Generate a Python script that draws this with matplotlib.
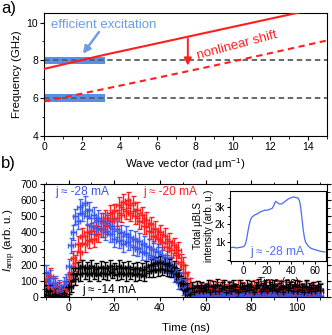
import numpy as np
import matplotlib
matplotlib.use("Agg")
import matplotlib.pyplot as plt
from matplotlib.ticker import MultipleLocator, FuncFormatter

plt.rcParams["font.family"] = ["Liberation Sans", "DejaVu Sans"]
plt.rcParams["mathtext.fontset"] = "custom"
plt.rcParams["mathtext.rm"] = "Liberation Sans"
plt.rcParams["mathtext.it"] = "Liberation Sans:italic"

# ---- panel a: dispersion ------------------------------------------------
k_vals = [0, 3, 6, 9, 12, 15]
f_linear = [7.55, 8.25, 8.9, 9.55, 10.2, 10.85]
f_shifted = [5.83, 6.45, 7.08, 7.72, 8.38, 9.05]
f_pump = [8, 6]
k_band = [0, 3.2]

# ---- panel b: time traces (one value per ns, t = -10 ... 110) -----------
t_ns = list(range(-10, 111))
amp_28 = [150, 95, 120, 70, 85, 40, 60, 30, 75, 95,
          190, 320, 400, 500, 470, 560, 520, 580, 500, 540,
          440, 510, 430, 490, 420, 470, 400, 460, 390, 440,
          360, 420, 350, 400, 330, 390, 340, 370, 310, 360,
          300, 350, 280, 330, 270, 310, 250, 300, 240, 280,
          220, 260, 200, 240, 170, 200, 140, 160, 100, 110,
          60, 70, 30, 35, 10, 25, 5, 20, 15, 10,
          20, 5, 25, 10, 30, 0, 15, 25, 5, 20,
          10, 30, 5, 15, 25, 0, 20, 10, 30, 5,
          15, 25, 10, 0, 20, 30, 5, 15, 25, 10,
          20, 0, 30, 15, 5, 25, 10, 20, 0, 30,
          15, 5, 25, 10, 20, 0, 15, 30, 5, 20, 10]
amp_20 = [110, 60, 130, 40, 70, 20, 45, 15, 50, 35,
          110, 140, 240, 210, 330, 280, 380, 330, 400, 350,
          410, 360, 440, 390, 470, 420, 490, 440, 520, 470,
          530, 490, 570, 510, 590, 530, 600, 520, 580, 500,
          540, 470, 510, 440, 480, 410, 450, 380, 420, 360,
          400, 340, 380, 310, 350, 290, 320, 260, 290, 220,
          200, 150, 110, 70, 45, 25, 50, 20, 40, 15,
          40, 15, 55, 25, 10, 45, 30, 60, 20, 35,
          50, 10, 40, 25, 55, 15, 45, 30, 5, 40,
          25, 55, 15, 35, 50, 10, 45, 20, 55, 30,
          15, 40, 60, 25, 10, 45, 30, 50, 20, 35,
          55, 15, 40, 25, 50, 10, 35, 45, 20, 30, 40]
amp_14 = [40, 15, 35, 5, 20, 0, 15, 5, 25, 10,
          60, 70, 140, 110, 180, 140, 190, 150, 180, 140,
          190, 150, 175, 140, 185, 150, 180, 145, 190, 155,
          175, 145, 190, 150, 180, 140, 185, 150, 175, 140,
          180, 145, 170, 135, 185, 160, 200, 165, 210, 170,
          215, 175, 205, 170, 200, 160, 185, 140, 130, 90,
          80, 40, 50, 20, 55, 30, 60, 35, 55, 40,
          45, 70, 30, 60, 40, 75, 35, 55, 65, 30,
          55, 40, 70, 45, 30, 65, 50, 35, 70, 45,
          60, 30, 55, 75, 40, 50, 65, 35, 55, 45,
          70, 35, 50, 60, 30, 65, 45, 55, 40, 70,
          35, 60, 45, 30, 65, 50, 40, 55, 35, 60, 45]

# ---- inset: total uBLS intensity for j = -28 mA ------------------------
t_inset = [-10, -8, -6, -4, -2, 0, 1, 2, 3, 4, 5, 6, 7, 8, 10, 12, 14, 16,
           18, 20, 22, 24, 25, 26, 27, 28, 30, 32, 34, 36, 38, 40, 42, 44,
           45, 46, 47, 48, 49, 50, 51, 52, 54, 56, 58, 60, 64, 68]
i_inset = [700, 720, 680, 700, 720, 750, 800, 950, 1250, 1650, 2000, 2250,
           2400, 2450, 2550, 2600, 2700, 2750, 2800, 2800, 2850, 2900, 3000,
           3150, 3300, 3250, 3150, 3150, 3250, 3350, 3450, 3500, 3550, 3500,
           3500, 3450, 3300, 2900, 2300, 1700, 1250, 1000, 800, 680, 620,
           580, 500, 450]

RED = "#ff1f1f"
BLUE = "#3556f0"
LIGHTBLUE = "#6c9bea"

fig = plt.figure(figsize=(3.32, 3.35), dpi=100)
ax_a = fig.add_axes([0.1335, 0.594, 0.851, 0.367])
ax_b = fig.add_axes([0.1335, 0.113, 0.851, 0.338])
ax_in = fig.add_axes([0.693, 0.221, 0.289, 0.209])

# panel a
for f in f_pump:
    ax_a.fill_between(k_band, f - 0.2, f + 0.2, color="#5b8ee6", lw=0, zorder=1)
    ax_a.axhline(f, color="#55605f", lw=1.3, ls=(0, (3, 2)), zorder=2)
ax_a.plot(k_vals, f_linear, color=RED, lw=1.5, zorder=3)
ax_a.plot(k_vals, f_shifted, color=RED, lw=1.5, ls=(0, (3, 2.2)), zorder=3)
ax_a.annotate("", xy=(7.62, 7.72), xytext=(7.62, 9.15),
              arrowprops=dict(arrowstyle="-|>", color=RED, lw=1.4,
                              mutation_scale=11, shrinkA=0, shrinkB=0))
ax_a.annotate("", xy=(2.05, 8.35), xytext=(2.9, 9.5),
              arrowprops=dict(arrowstyle="-|>", color=LIGHTBLUE, lw=1.7,
                              mutation_scale=11, shrinkA=0, shrinkB=0))
ax_a.text(0.38, 9.87, "efficient excitation", color=LIGHTBLUE, fontsize=9.5,
          va="center", ha="left")
ax_a.text(10.25, 8.8, "nonlinear shift", color=RED, fontsize=9.5,
          rotation=15, va="center", ha="center", rotation_mode="anchor")
ax_a.set_xlim(0, 15)
ax_a.set_ylim(4, 10.5)
ax_a.xaxis.set_major_locator(MultipleLocator(2))
ax_a.xaxis.set_minor_locator(MultipleLocator(1))
ax_a.yaxis.set_major_locator(MultipleLocator(2))
ax_a.yaxis.set_minor_locator(MultipleLocator(1))
ax_a.set_xlabel("Wave vector (rad µm$^{-1}$)", fontsize=8.2, labelpad=3)
ax_a.set_ylabel("Frequency (GHz)", fontsize=8.2, labelpad=3)

# panel b
eb = dict(fmt="+", markersize=4, elinewidth=1.0, capsize=1.8, capthick=1.0,
          markeredgewidth=1.0, xerr=1.1)
ax_b.errorbar(t_ns, amp_20, yerr=48, color=RED, **eb)
ax_b.errorbar(t_ns, amp_28, yerr=48, color=BLUE, alpha=0.9, **eb)
ax_b.errorbar(t_ns, amp_14, yerr=38, color="black", **eb)
ax_b.text(-5.8, 649, "j ≈ -28 mA", color=BLUE, fontsize=8.6, va="center")
ax_b.text(32.8, 649, "j ≈ -20 mA", color=RED, fontsize=8.6, va="center")
ax_b.text(5.9, 42, "j ≈ -14 mA", color="black", fontsize=8.6, va="center")
ax_b.set_xlim(-10.6, 113)
ax_b.set_ylim(0, 700)
ax_b.xaxis.set_major_locator(MultipleLocator(20))
ax_b.xaxis.set_minor_locator(MultipleLocator(10))
ax_b.yaxis.set_major_locator(MultipleLocator(100))
ax_b.yaxis.set_minor_locator(MultipleLocator(50))
ax_b.set_xlabel("Time (ns)", fontsize=8.2, labelpad=7)
ax_b.set_ylabel(r"$I_\mathrm{amp}$ (arb. u.)", fontsize=8.2, labelpad=2)
ax_b.tick_params(which="both", top=True, right=True)

# inset
ax_in.plot(t_inset, i_inset, color="#4a6cf2", lw=0.9)
ax_in.text(28, 480, "j ≈ -28 mA", color="#4a6cf2", fontsize=8.6,
           va="center", ha="center")
ax_in.set_xlim(-11, 69)
ax_in.set_ylim(-50, 3880)
ax_in.xaxis.set_major_locator(MultipleLocator(20))
ax_in.xaxis.set_minor_locator(MultipleLocator(10))
ax_in.yaxis.set_major_locator(MultipleLocator(1000))
ax_in.yaxis.set_minor_locator(MultipleLocator(500))
ax_in.yaxis.set_major_formatter(FuncFormatter(
    lambda v, p: f"{int(v / 1000)}k" if v > 0 else ""))
ax_in.set_xlabel("Time (ns)", fontsize=7, labelpad=1)
ax_in.set_ylabel("Total µBLS\nintensity (arb. u.)", fontsize=7, labelpad=1,
                 linespacing=1.1)

for ax in (ax_a, ax_b, ax_in):
    ax.tick_params(which="major", direction="out", length=3, width=0.8,
                   labelsize=7.5, pad=1.5)
    ax.tick_params(which="minor", direction="out", length=1.8, width=0.6)
    for sp in ax.spines.values():
        sp.set_linewidth(0.8)
ax_in.tick_params(which="major", labelsize=7, length=2.5, pad=1)

fig.text(0.003, 0.998, "a)", fontsize=12, va="top", ha="left")
fig.text(0.003, 0.535, "b)", fontsize=12, va="top", ha="left")

fig.savefig("out.png", dpi=100)
